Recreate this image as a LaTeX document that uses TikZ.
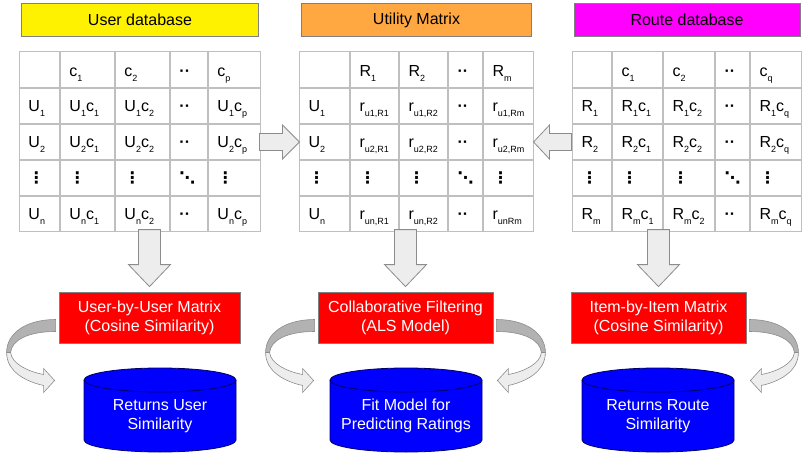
\documentclass[tikz,border=0pt]{standalone}
\usepackage{fontspec}
\setmainfont{Liberation Sans}
\newfontfamily\dejavu{DejaVu Sans}
\usetikzlibrary{positioning,matrix,calc}
\newcommand{\lo}[1]{\raisebox{-5pt}{\fontsize{9}{9}\selectfont #1}}
\newcommand{\vd}{{\dejavu\bfseries ⋮}}
\newcommand{\dd}{{\dejavu\bfseries ⋱}}
\newcommand{\hd}{\textbf{··}}
\begin{document}
\begin{tikzpicture}[x=1pt,y=-1pt,font=\fontsize{16}{19}\selectfont,
  tab/.style={matrix of nodes,nodes in empty cells,inner sep=0pt,outer sep=0pt,column sep=0pt,row sep=0pt,
    nodes={draw=color4,line width=1pt,inner xsep=9pt,inner ysep=0pt,outer sep=0pt,text height=23pt,text depth=12pt,align=left},
    row 1/.style={nodes={text height=25pt,text depth=11pt}}},
  cols/.style n args={5}{column 1/.style={nodes={text width=#1pt}},column 2/.style={nodes={text width=#2pt}},
    column 3/.style={nodes={text width=#3pt}},column 4/.style={nodes={text width=#4pt}},column 5/.style={nodes={text width=#5pt}}},
  hdr/.style={draw=color5,line width=0.8pt,minimum height=33pt,inner sep=0pt},
  proc/.style={draw=color5,line width=0.8pt,fill=red,text=white,minimum height=51pt,align=center},
  barrow/.style={draw=color6,line width=0.8pt,fill=color1},
  cback/.style={draw=color6,line width=0.6pt,fill=color2},
  cfront/.style={draw=color6,line width=0.6pt,fill=color1},
  cyl/.style={draw=color7,line width=0.8pt,fill=blue},
  cyltext/.style={text=white,align=center}]
\definecolor{color1}{rgb}{0.93,0.93,0.93}
\definecolor{color2}{rgb}{0.7,0.7,0.7}
\definecolor{color3}{rgb}{1,0.66,0.26}
\definecolor{color4}{rgb}{0.75,0.75,0.75}
\definecolor{color5}{rgb}{0.5,0.5,0.5}
\definecolor{color6}{rgb}{0.55,0.55,0.55}
\definecolor{color7}{rgb}{0,0,0.4}
\definecolor{color8}{rgb}{1,0,1}
\useasboundingbox (0,0) rectangle (809,455);
\matrix[tab,cols={22}{36}{36}{19}{34},anchor=north west] (usertab) at (19,51) {
  & c\lo{1} & c\lo{2} & \hd & c\lo{p} \\
  U\lo{1} & U\lo{1}c\lo{1} & U\lo{1}c\lo{2} & \hd & U\lo{1}c\lo{p} \\
  U\lo{2} & U\lo{2}c\lo{1} & U\lo{2}c\lo{2} & \hd & U\lo{2}c\lo{p} \\
  \vd & \vd & \vd & \dd & \vd \\
  U\lo{n} & U\lo{n}c\lo{1} & U\lo{n}c\lo{2} & \hd & U\lo{n}c\lo{p} \\
};
\matrix[tab,cols={32}{30}{30}{16}{32},anchor=north west] (utiltab) at (299,51) {
  & R\lo{1} & R\lo{2} & \hd & R\lo{m} \\
  U\lo{1} & r\lo{u1,R1} & r\lo{u1,R2} & \hd & r\lo{u1,Rm} \\
  U\lo{2} & r\lo{u2,R1} & r\lo{u2,R2} & \hd & r\lo{u2,Rm} \\
  \vd & \vd & \vd & \dd & \vd \\
  U\lo{n} & r\lo{un,R1} & r\lo{un,R2} & \hd & r\lo{unRm} \\
};
\matrix[tab,cols={21}{32}{33}{16}{33},anchor=north west] (routetab) at (572,51) {
  & c\lo{1} & c\lo{2} & \hd & c\lo{q} \\
  R\lo{1} & R\lo{1}c\lo{1} & R\lo{1}c\lo{2} & \hd & R\lo{1}c\lo{q} \\
  R\lo{2} & R\lo{2}c\lo{1} & R\lo{2}c\lo{2} & \hd & R\lo{2}c\lo{q} \\
  \vd & \vd & \vd & \dd & \vd \\
  R\lo{m} & R\lo{m}c\lo{1} & R\lo{m}c\lo{2} & \hd & R\lo{m}c\lo{q} \\
};
\node[hdr,fill=yellow,minimum width=237pt,above=14pt of usertab] (userdb) {User database};
\node[hdr,fill=color3,minimum width=230pt,above=14pt of utiltab] (utilm) {Utility Matrix};
\node[hdr,fill=color8,minimum width=226pt,above=14pt of routetab] (routedb) {Route database};
\coordinate[] (B1) at (149.5,317.5);
\coordinate[] (B2) at (405.5,317.5);
\coordinate[] (B3) at (658.5,317.5);
\node[proc,minimum width=181pt] (ubu) at (B1) {User-by-User Matrix\\(Cosine Similarity)};
\node[proc,minimum width=175pt] (cf) at (B2) {Collaborative Filtering\\(ALS Model)};
\node[proc,minimum width=175pt] (ibi) at (B3) {Item-by-Item Matrix\\(Cosine Similarity)};
\draw[barrow] (utiltab-3-1.west) -- ++(-17,-17) -- ++(0,8.5) -- ++(-23,0) -- ++(0,17) -- ++(23,0) -- ++(0,8.5) -- cycle;
\draw[barrow] (utiltab-3-5.east) -- ++(16,-17) -- ++(0,8.5) -- ++(22,0) -- ++(0,17) -- ++(-22,0) -- ++(0,8.5) -- cycle;
\foreach \b in {ubu,cf,ibi}
  \draw[barrow] ($(\b.north)+(0,-5)$) -- ++(21,-22) -- ++(-10,0) -- ++(0,-35) -- ++(-22,0) -- ++(0,35) -- ++(-10,0) -- cycle;
\foreach \x/\n/\t in {160/ucyl/{Returns User\\Similarity},406/fcyl/{Fit Model for\\Predicting Ratings},658/rcyl/{Returns Route\\Similarity}}{
  \filldraw[cyl] ({\x-76},380) -- ({\x-76},440) arc[start angle=180,end angle=0,x radius=76,y radius=12]
    -- ({\x+76},380) arc[start angle=0,end angle=-180,x radius=76,y radius=12] -- cycle;
  \draw[draw=color7,line width=0.8pt] ({\x-76},380) arc[start angle=180,end angle=0,x radius=76,y radius=12];
  \node[cyltext] (\n) at (\x,416) {\t};
}
\foreach \a/\s in {ubu.west/1,cf.west/1,cf.east/-1,ibi.east/-1}{
  \begin{scope}[shift={($(\a)+(-3*\s,2)$)},xscale=\s]
    \filldraw[cback] (0,0) .. controls (-30,0) and (-49,14) .. (-49,33) -- (-45,33)
      .. controls (-44,21) and (-28,12) .. (0,12) -- cycle;
    \filldraw[cfront] (-49,33) .. controls (-49,52) and (-30,62) .. (-12,66) -- (-12,73) -- (-1,61) -- (-12,49) -- (-12,55)
      .. controls (-28,52) and (-44,44) .. (-45,33) -- cycle;
  \end{scope}
}
\end{tikzpicture}
\end{document}
